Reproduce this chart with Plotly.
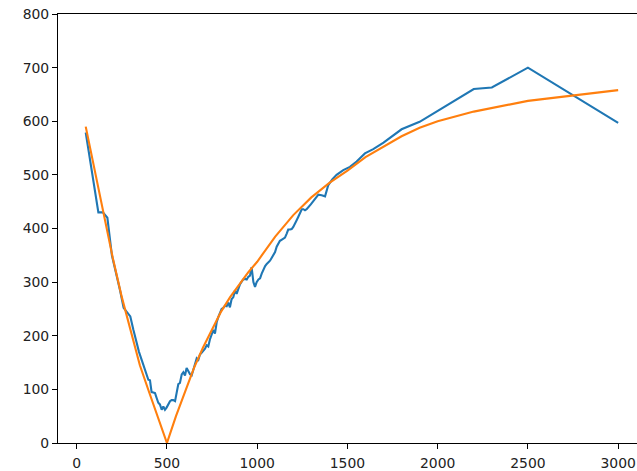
import plotly.graph_objects as go

# Measured series (blue)
meas_x = [50, 120, 145, 170, 195, 220, 240, 260, 280, 297, 314, 332, 345, 360, 375, 388, 397, 406,
          415, 425, 434, 443, 452, 461, 471, 480, 489, 498, 508, 517, 526, 535, 545, 554, 563, 572,
          582, 591, 600, 609, 618, 628, 637, 646, 655, 665, 674, 683, 692, 702, 711, 720, 729, 738,
          748, 757, 766, 776, 785, 794, 803, 812, 822, 831, 840, 849, 858, 868, 877, 886, 896, 905,
          914, 923, 932, 942, 951, 960, 969, 979, 988, 997, 1007, 1016, 1025, 1034, 1044, 1053, 1062,
          1071, 1080, 1089, 1099, 1108, 1117, 1126, 1135, 1145, 1154, 1163, 1172, 1182, 1191, 1200,
          1209, 1218, 1228, 1237, 1247, 1256, 1265, 1274, 1283, 1297, 1311, 1325, 1339, 1357, 1376,
          1394, 1417, 1440, 1477, 1514, 1551, 1597, 1643, 1700, 1800, 1900, 2200, 2300, 2500, 3000]
meas_y = [579, 430, 430, 420, 350, 315, 285, 252, 243, 236, 211, 186, 170, 155, 140, 128, 118, 117,
          95, 94, 93, 84, 75, 72, 62, 68, 62, 66, 72, 78, 80, 80, 78, 95, 110, 112,
          128, 132, 126, 140, 135, 128, 126, 137, 148, 158, 155, 165, 168, 172, 176, 182, 180, 193,
          205, 211, 204, 226, 235, 244, 250, 252, 256, 255, 262, 253, 268, 272, 285, 278, 290, 296,
          301, 305, 306, 305, 310, 312, 328, 300, 291, 300, 305, 307, 316, 324, 330, 334, 337,
          340, 345, 350, 356, 366, 372, 377, 379, 381, 383, 390, 398, 398, 399, 403,
          408, 415, 422, 430, 436, 436, 434, 436, 439, 445, 451, 457, 463, 462, 460,
          481, 492, 500, 509, 515, 525, 540, 548, 560, 585, 599, 660, 663, 700, 597]

# Fitted curve (orange)
fit_x = [50, 100, 150, 200, 250, 300, 350, 400, 450, 500, 550, 600, 650, 700, 750, 800, 850, 900,
         950, 1000, 1100, 1200, 1300, 1400, 1500, 1600, 1700, 1800, 1900, 2000, 2200, 2300, 2500, 3000]
fit_y = [590, 508, 427, 345, 272, 207, 145, 96, 48, 0, 50, 97, 140, 178, 210, 245, 272, 296,
         318, 338, 385, 425, 458, 485, 508, 533, 552, 572, 588, 600, 618, 625, 638, 658]

x_ticks = [0, 500, 1000, 1500, 2000, 2500, 3000]
y_ticks = [0, 100, 200, 300, 400, 500, 600, 700, 800]

fig = go.Figure()
fig.add_trace(go.Scatter(x=meas_x, y=meas_y, mode="lines",
                         line=dict(color="#1f77b4", width=2.1), showlegend=False))
fig.add_trace(go.Scatter(x=fit_x, y=fit_y, mode="lines",
                         line=dict(color="#ff7f0e", width=2.1), showlegend=False))

axis_common = dict(showgrid=False, zeroline=False, showline=True, linecolor="black",
                   linewidth=1.1, ticks="outside", ticklen=5, tickwidth=1.1, tickcolor="black",
                   automargin=False,
                   tickfont=dict(family="DejaVu Sans", size=13.9, color="#222"))

fig.update_xaxes(range=[-103.6, 3104.4], tickvals=x_ticks, ticktext=[str(v) for v in x_ticks],
                 mirror=True, ticklabelstandoff=2, **axis_common)
fig.update_yaxes(range=[0, 800], tickvals=y_ticks, ticktext=[str(v) for v in y_ticks],
                 **axis_common)

fig.update_layout(width=637, height=471, margin=dict(l=58, r=0, t=14, b=28),
                  plot_bgcolor="white", paper_bgcolor="white",
                  font=dict(family="DejaVu Sans"))

fig.write_html("out.html", config={"displayModeBar": False},
               post_script="document.body.style.margin='0';document.body.style.overflow='hidden';")
